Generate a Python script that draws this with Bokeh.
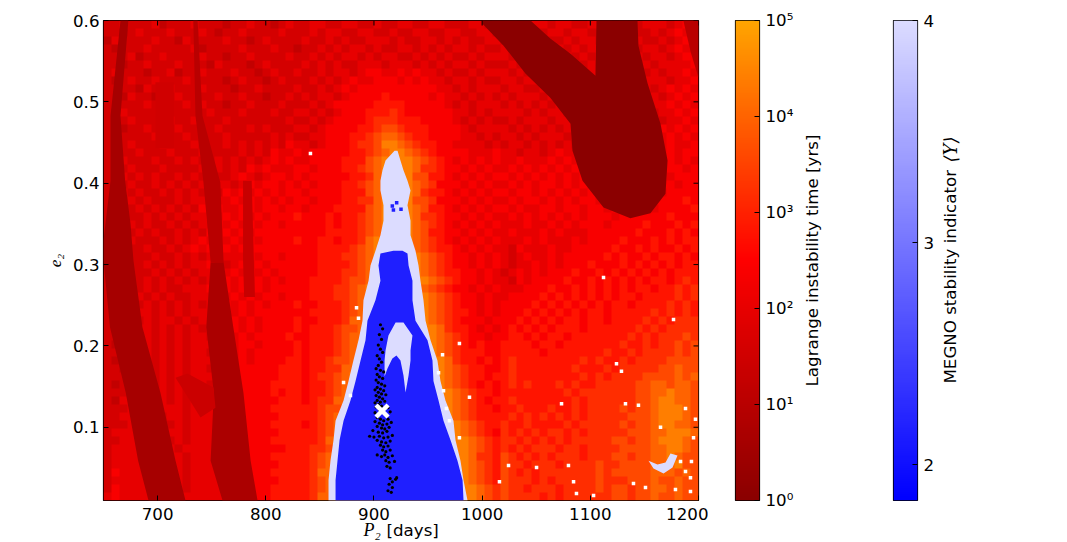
import numpy as np
from bokeh.plotting import figure
from bokeh.layouts import row, column
from bokeh.models import Range1d, FixedTicker, LinearColorMapper, Label
from bokeh.embed import file_html
from bokeh.resources import INLINE

# ---------- data ----------
x_ticks = [700, 800, 900, 1000, 1100, 1200]
y_ticks = [0.1, 0.2, 0.3, 0.4, 0.5, 0.6]
lagrange_ticks = [0, 1, 2, 3, 4, 5]
lagrange_labels = ["10⁰", "10¹", "10²", "10³", "10⁴", "10⁵"]
megno_ticks = [2, 3, 4]

# background: each character is one coarse cell of log10(instability time), top row first
time_codes = {c: i * 0.4 for i, c in enumerate("0123456789ABC")}
time_grid = [
"4454445344454443445443454 4554455445445544554445545 5544554554455545445554566",
"4434544454445434454444544 4545544554454455445544554 5455445545544455544545655",
"3544445443544445443454444 5445454455545445545454455 4554554454554545554454566",
"4344454444453444454445443 4454545545445545454554544 5545445545455445545545655",
"4445344544445443445444454 4545455454554454545445455 5454554454545554454554566",
"4434454445444354443454444 5454544555455545454554544 4545545545454455545455556",
"4544434453445444544345445 4454554566556565545445455 5454455454554545554545565",
"4345445444544443454434544 4545456556665656554554544 5545545545455454545554556",
"4444354454445444344544445 4454565666666666655454555 4554454554545545455456565",
"4435443445444454454434454 5455456666766666565545454 5455545454554545545545656",
"4444454344545443445444544 4545666667777666665454555 4545454554554455554556565",
"4354444544444544454445445 5454566677787666666554545 5554545545455545455455656",
"4445444454454445444444454 4545666678887776666545454 4545554554545545556545565",
"4434454445444454445454445 5456666778998777666654555 5454545455455454545465656",
"4544445444544445444445454 4556667789AA9877666655454 5545455545545456565556565",
"4445444544454445454545465 5456667889BBA987766555545 4554545454556565655656556",
"4444544454445444454546556 56666677 89ABBA9876 66655565 5455456556565656566565665",
"4454445445454454545456565 5666677 79ABBBBA987 6565656 5565556565656556565656565",
"4545444544445454546565556 6566677 89ABBBBA887 6656565 5656565656566565656656656",
"4454545445454544565456656 5666667 78ABBBB9977 6565656 6565656565656656566565666",
"4545445454545455456566565 6566677 89ABBBBA986 6656565 5656566565656565666566566",
"4454544545454546565656566 5666677 79ABBBBA877 6565656 6566565656566566656656666",
"4445454445455455656565656 6566677 88ABBBB9986 6656565 5656656565665656566666676",
"4544545454546565566566566 5666777 79ABBBBA977 6565656 6565566566566566666566667",
"4454454545455656565656667 6667677 89ABBBBA887 6656565 5656565656566656666667666",
"4445454454545565656566566 6667677 89ABBBBA987 6565656 5556556565666566667666767",
"4444545445454656565666666 6667777 89ABBBBA977 6656565 5655565655566666676667676",
"4445444545456565656566667 6677677 8ABBBBBA987 6565656 5556565556566667666767677",
"4344454454565656566666666 6677778 9ABBBBBA987 7656565 5465556556666676676766767",
"4454445445454565556566566 6677788 9ABBBBBBA98 7665656 5456556566666767667677676",
"4344454545455654565656666 667777 89ABBBBBBA987 665656 5455656566676667676767677",
"4434445454545555656565666 667778 89ABBBBBBA987 766565 4565656667667676767676777",
"4344454545454556565656566 677778 99ABBBBBBBA98 766565 5465666676676767676776787",
"4443454544555656565656666 677788 9ABBBBBBBA987 665656 5556667667676767677677878",
"4344545454455555656566566 677788 9ABBBBBBBBA98 766565 5666676767676767767777878",
"4434454545454556565656667 66777 89ABBBBBBBBA987 66565 6666767676767677677778787",
"4344554545455556565666666 67777 89ABBBBBBBBA987 76565 6667676767677677777878787",
"4443454554545565656566667 66777 8AABBBBBBBBA987 66656 6676767677677677778787888",
"4344554545454555656566667 67778 99ABBBBBBBBBA87 76565 6767676777677777787878888",
"4434554545455456565666676 67778 9AABBBBBBBBBA98 76656 6776767767777777878788898",
"4344554545455556566566667 6777 89ABBBBBBBBBBA987 6766 7777677677777778778788989",
"4435554545455456565666667 6777 89ABBBBBBBBBBA987 7766 7777767777777877878888989",
"4344554545455556565666677 6778 99ABBBBBBBBBBBA87 7676 7877777777878778788889999",
"4435554545455456566666777 6778 8AABBBBBBBBBBBA98 7766 7877777778777878888899A99",
"4445554545455556566666777 6788 9ABBBBBBBBBBBBA98 7767 7877777777878788889999A9A",
"4345554545455456566667777 677 89ABBBBBBBBBBBBA987 676 7878777878778888899AA9AA9",
"4445554545455556566667677 677 89ABBBBBBBBBBBBBA98 776 7777777787888888899AABAA9",
"4355554545454556566666777 678 8AABBBBBBBBBBBBBA98 767 7877777778788888899ABBAA9",
"4445554555455556566667777 778 99ABBBBBBBBBBBBBA98 776 7787778778788889899ABBBA9",
"4455555455455556566666777 778 9ABBBBBBBBBBBBBBA98 777 7878787878788888999ABBBA9",
"4445555545455556566667777 67 89ABBBBBBBBBBBBBBBA987 7 8778777787888889899ABBAA9",
"4555555455455556566666777 77 89ABBBBBBBBBBBBBBBA987 6 8787878878788888999AABBBA",
"4455555545455556566667777 77 8AABBBBBBBBBBBBBBBBA98 7 8878787878888899899ABBBA9",
"4555555454555556566666677 78 89ABBBBBBBBBBBBBBBBA98 7 8787888788788889999AABBA9",
"4555555455455556566667777 78 9ABBBBBBBBBBBBBBBBBA88 7 9878787888788899899AABA99",
"4555555545455556566666777 78 9ABBBBBBBBBBBBBBBBBA987 9887888788889889999AAAB99",
"4655555455455556566667777 78 AABBBBBBBBBBBBBBBBBA987 9878788888889899999AAA9A9",
"4555555545455556566666777 78 9ABBBBBBBBBBBBBBBBBA987 9888787888889888999A99A99",
"4655555455455556566667777 78 9ABBBBBBBBBBBBBBBBBBA98 9887888788889899899AA9A99",
"5655555545555556566667777 78 AABBBBBBBBBBBBBBBBBBA98 9888878788888899899A99A99",
]

# flat, dark instability regions: outline in (P, e) and their log10(time)
band1_p = [665.7, 656.5, 656.5, 650, 650, 656, 670.6, 682, 691.6, 725.8, 716.6, 702.7, 686, 677.7, 675, 670, 665.7, 673]
band1_e = [0.6, 0.483, 0.403, 0.33, 0.305, 0.223, 0.142, 0.059, 0.01, 0.01, 0.059, 0.142, 0.223, 0.305, 0.35, 0.403, 0.483, 0.6]
band1_level = 0.6
band2_p = [749, 745, 752, 749, 760, 792.4, 786, 779.4, 770, 761]
band2_e = [0.303, 0.223, 0.142, 0.059, 0.01, 0.01, 0.059, 0.142, 0.223, 0.303]
band2_level = 0.7
band2top_p = [733, 735, 742.4, 749, 761, 758, 741.5, 737]
band2top_e = [0.6, 0.483, 0.401, 0.303, 0.303, 0.401, 0.483, 0.6]
band2top_level = 1.0
band3_p = [779, 787, 789, 790, 780, 779]
band3_e = [0.403, 0.403, 0.305, 0.26, 0.26, 0.305]
band3_level = 1.3
band4_p = [698, 715, 715, 698]
band4_e = [0.524, 0.524, 0.443, 0.443]
band4_level = 1.5
band5_p = [1186, 1200, 1200, 1193]
band5_e = [0.6, 0.6, 0.53, 0.56]
band5_level = 1.0
band6_p = [716.6, 727.6, 751.7, 753.5, 739.7]
band6_e = [0.161, 0.166, 0.149, 0.124, 0.112]
band6_level = 1.4
blob_p = [1000.3, 1044.7, 1063, 1081.7, 1104.8, 1105.7, 1143.6, 1144.5, 1152.9, 1164.9, 1171.4, 1169.5, 1155.6, 1137, 1112.2, 1092.8, 1083.5, 1081.7, 1063, 1040, 1019.8, 1000.3]
blob_e = [0.6, 0.6, 0.578, 0.559, 0.532, 0.6, 0.6, 0.569, 0.523, 0.473, 0.428, 0.387, 0.363, 0.357, 0.370, 0.403, 0.44, 0.473, 0.505, 0.535, 0.569, 0.596]
blob_level = 0.0

# the stable region: MEGNO about 4 (outer) and about 2 (inner)
outer_e = [0.440, 0.428, 0.416, 0.403, 0.391, 0.373, 0.354, 0.336, 0.317, 0.299, 0.280, 0.256, 0.231, 0.207, 0.182, 0.157, 0.133, 0.108, 0.084, 0.059, 0.035, 0.01]
outer_left = [919, 910.7, 907.9, 906, 906, 908.8, 908.8, 906, 901.4, 896.8, 895, 890.3, 889.4, 885.7, 881, 876.5, 871.9, 864.5, 862.6, 859.8, 858, 858]
outer_right = [921.8, 924.5, 927.3, 931, 933.8, 931, 933.8, 933.8, 938.4, 941.2, 943, 945.8, 947.7, 952.3, 958.7, 961.5, 966.1, 973.5, 975.4, 980, 982.8, 986.5]
inner_e = [0.317, 0.3136, 0.299, 0.280, 0.256, 0.231, 0.207, 0.182, 0.157, 0.133, 0.108, 0.084, 0.059, 0.035, 0.01]
inner_left = [918, 906, 904.2, 906, 901.4, 894, 892.2, 887.6, 883, 878.3, 871.9, 868.2, 866.3, 864.5, 864.5]
inner_right = [926.4, 931, 932, 935.6, 935.6, 938.4, 949.5, 954.1, 955, 959.7, 964.3, 970.8, 977.2, 981.9, 982.8]
arch_p = [920, 927.3, 935.6, 933.8, 933.8, 932, 929.2, 927.3, 924.5, 920.8, 917, 912.5, 909.8, 909.8, 910.7, 913.4]
arch_e = [0.2288, 0.2288, 0.2128, 0.1944, 0.182, 0.1636, 0.1427, 0.1636, 0.182, 0.1882, 0.1845, 0.1723, 0.1624, 0.182, 0.1944, 0.2128]
island_p = [1153.8, 1158.4, 1167.7, 1176, 1180.6, 1174.1, 1169.5, 1162.1]
island_e = [0.059, 0.0493, 0.0432, 0.0506, 0.0653, 0.0678, 0.0567, 0.0542]
megno_blue = 2.15
megno_pale = 4.0

# isolated pale cells
white_p = [1112.2, 1176.9, 979, 1124.2, 1128.8, 988.3, 1073.4, 1132.5, 1144.5, 1188, 1197.2, 1164.9, 1195.4, 979, 1024.4, 1050.3, 1079.8, 1016, 1084.5, 1139.9, 1087.2, 1103, 1151, 1178.7, 1192.6, 1192.6, 1183.4, 1193.5, 1188, 841.3, 964.3, 963.4, 871.9, 883.9, 885.7, 959.7, 967, 969.8, 878.3]
white_e = [0.284, 0.2325, 0.203, 0.178, 0.169, 0.137, 0.129, 0.129, 0.127, 0.123, 0.110, 0.100, 0.087, 0.087, 0.053, 0.0506, 0.053, 0.033, 0.033, 0.031, 0.0186, 0.016, 0.026, 0.0235, 0.021, 0.038, 0.058, 0.058, 0.0456, 0.4365, 0.145, 0.189, 0.155, 0.247, 0.234, 0.167, 0.123, 0.108, 0.139]
inner_spot_p = [917, 921, 918, 925]
inner_spot_e = [0.372, 0.376, 0.367, 0.368]

# black dots: solutions of the fit; white cross: best fit
fit_p = [906,908,905,907,904,906,908,903,905,907,904,902,906,909,903,905,908,902,904,907,910,903,906,909,901,904,907,911,902,905,908,903,906,910,901,904,907,913,902,905,909,915,901,904,911,903,906,909,913,901,905,908,912,916,903,907,910,914,899,904,908,912,896,900,905,909,913,917,903,907,911,915,906,909,913,908,911,915,903,907,910,913,917,911,914,919,912,915,917,920,914,917,913,916,921,915]
fit_e = [.226,.221,.214,.208,.201,.196,.192,.188,.184,.180,.176,.172,.170,.168,.165,.162,.160,.158,.155,.153,.151,.149,.147,.145,.146,.143,.141,.140,.139,.137,.135,.133,.131,.132,.130,.128,.126,.124,.125,.122,.120,.119,.118,.116,.115,.112,.110,.108,.110,.107,.105,.103,.104,.106,.101,.099,.098,.100,.096,.094,.093,.095,.089,.088,.089,.087,.088,.090,.084,.082,.081,.083,.078,.076,.077,.072,.070,.072,.066,.064,.066,.063,.065,.059,.057,.058,.052,.050,.033,.036,.030,.026,.022,.020,.038,.037]
best_p = [907.5]
best_e = [0.12]

# ---------- colours ----------
def time_rgb(t):
    if t < 0.5:
        return (int(139 + 116 * t / 0.5), 0, 0)
    return (255, int(165 * (t - 0.5) / 0.5), 0)

def to_hex(c):
    return "#%02x%02x%02x" % c

time_palette = [to_hex(time_rgb(i / 255)) for i in range(256)]
megno_min, megno_max = 1.84, 4.0
def megno_rgb(t):
    v = int(220 * t)
    return (v, v, 255)
megno_palette = [to_hex(megno_rgb(i / 255)) for i in range(256)]
time_mapper = LinearColorMapper(palette=time_palette, low=0, high=5)
megno_mapper = LinearColorMapper(palette=megno_palette, low=megno_min, high=megno_max)

def time_color(level):
    return to_hex(time_rgb(level / 5))
def megno_color(level):
    return to_hex(megno_rgb((level - megno_min) / (megno_max - megno_min)))

FONT = "DejaVu Sans"
TICK = "16.67px"

def style_axis(ax, standoff=7):
    ax.major_tick_in = 5
    ax.major_tick_out = 0
    ax.minor_tick_in = 0
    ax.minor_tick_out = 0
    ax.axis_line_color = None
    ax.major_tick_line_color = "black"
    ax.major_label_text_color = "black"
    ax.major_label_text_font = FONT
    ax.major_label_text_font_size = TICK
    ax.major_label_standoff = standoff

def text_panel(width, height, **kw):
    # a figure that only holds labels, so that they are inside its frame
    f = figure(width=width, height=height, output_backend="svg", toolbar_location=None,
               x_range=Range1d(0, 1), y_range=Range1d(0, 1),
               min_border_left=0, min_border_right=0, min_border_top=0, min_border_bottom=0, **kw)
    f.axis.visible = False
    f.grid.visible = False
    f.outline_line_color = None
    f.background_fill_alpha = 0
    f.border_fill_alpha = 0
    return f

# ---------- main panel ----------
p = figure(width=708, height=527, output_backend="svg", toolbar_location=None,
           x_range=Range1d(650, 1200), y_range=Range1d(0.01, 0.6),
           min_border_left=103, min_border_right=10, min_border_top=20, min_border_bottom=27)
p.grid.visible = False
p.outline_line_color = "black"
p.outline_line_width = 1.2

rows = [r.replace(" ", "").ljust(75, "6")[:75] for r in time_grid]
arr = np.array([[time_codes[c] for c in r] for r in rows], dtype=float)[::-1]
p.image(image=[arr], x=650, y=0.01, dw=550, dh=0.59, color_mapper=time_mapper)

for px, py, lev in [(band1_p, band1_e, band1_level), (band2_p, band2_e, band2_level),
                    (band2top_p, band2top_e, band2top_level),
                    (band3_p, band3_e, band3_level), (band4_p, band4_e, band4_level),
                    (band5_p, band5_e, band5_level), (band6_p, band6_e, band6_level),
                    (blob_p, blob_e, blob_level)]:
    p.patch(px, py, fill_color=time_color(lev), line_color=None)

p.harea(x1=outer_left, x2=outer_right, y=outer_e, fill_color=megno_color(megno_pale))
p.harea(x1=inner_left, x2=inner_right, y=inner_e, fill_color=megno_color(megno_blue))
p.patch(arch_p, arch_e, fill_color=megno_color(megno_pale), line_color=None)
p.patch(island_p, island_e, fill_color=megno_color(megno_pale), line_color=None)
p.scatter(white_p, white_e, marker="square", size=3.5, fill_color="white", line_color=None)
p.scatter(inner_spot_p, inner_spot_e, marker="square", size=3.5, fill_color=megno_color(megno_blue), line_color=None)
p.scatter(fit_p, fit_e, marker="circle", size=3.2, fill_color="black", line_color=None)
p.scatter(best_p, best_e, marker="x", size=17, line_color="white", line_width=4.5)

p.xaxis.ticker = FixedTicker(ticks=x_ticks)
p.yaxis.ticker = FixedTicker(ticks=y_ticks)
p.xaxis.major_label_overrides = {v: str(v) for v in x_ticks}
style_axis(p.xaxis[0], 7)
style_axis(p.yaxis[0], 4)
p.yaxis.axis_label = "e₂"
p.yaxis.axis_label_text_font = "Liberation Serif"
p.yaxis.axis_label_text_font_style = "italic"
p.yaxis.axis_label_text_font_size = "17px"
p.yaxis.axis_label_text_color = "black"
p.yaxis.axis_label_standoff = 5

tick_de = 5 * 0.59 / 480
tick_dp = 5 * 550 / 595
p.segment(x_ticks, [0.6] * len(x_ticks), x_ticks, [0.6 - tick_de] * len(x_ticks), line_color="black")
p.segment([1200] * len(y_ticks), y_ticks, [1200 - tick_dp] * len(y_ticks), y_ticks, line_color="black")

x_label = text_panel(708, 24, margin=(-9, 0, 0, 0))
x_label.add_layout(Label(x=260, y=3, x_units="screen", y_units="screen", text="P₂",
                         text_font="Liberation Serif", text_font_style="italic", text_font_size="18px", text_color="black"))
x_label.add_layout(Label(x=283, y=3, x_units="screen", y_units="screen", text="[days]",
                         text_font=FONT, text_font_size=TICK, text_color="black"))

# ---------- colour bars ----------
def colour_bar(width, left, right, low, high, ticks, mapper, overrides=None):
    f = figure(width=width, height=542, output_backend="svg", toolbar_location=None,
               x_range=Range1d(0, 1), y_range=Range1d(low, high), y_axis_location="right",
               min_border_left=left, min_border_right=right, min_border_top=20, min_border_bottom=42)
    f.grid.visible = False
    f.xaxis.visible = False
    f.outline_line_color = "black"
    f.outline_line_width = 1.2
    ramp = np.linspace(low, high, 480).reshape(-1, 1)
    f.image(image=[ramp], x=0, y=low, dw=1, dh=high - low, color_mapper=mapper)
    f.yaxis.ticker = FixedTicker(ticks=ticks)
    if overrides:
        f.yaxis.major_label_overrides = overrides
    style_axis(f.yaxis[0], 6)
    return f

cb1 = colour_bar(92, 27, 41, 0, 5, lagrange_ticks, time_mapper,
                 {t: s for t, s in zip(lagrange_ticks, lagrange_labels)})
cb1_label = text_panel(78, 542)
cb1_label.add_layout(Label(x=12, y=240, x_units="screen", y_units="screen", angle=90, angle_units="deg",
                           text="Lagrange instability time [yrs]", text_font=FONT, text_font_size=TICK,
                           text_align="center", text_baseline="middle", text_color="black"))
cb2 = colour_bar(60, 15, 21, megno_min, megno_max, megno_ticks, megno_mapper,
                 {2: "2", 3: "3", 4: "4"})
cb2_label = text_panel(121, 542)
cb2_label.add_layout(Label(x=12, y=117, x_units="screen", y_units="screen", angle=90, angle_units="deg",
                           text="MEGNO stability indicator", text_font=FONT, text_font_size=TICK,
                           text_align="left", text_baseline="middle", text_color="black"))
cb2_label.add_layout(Label(x=12, y=338, x_units="screen", y_units="screen", angle=90, angle_units="deg",
                           text="⟨Y⟩", text_font="DejaVu Serif", text_font_style="italic", text_font_size="18px",
                           text_align="left", text_baseline="middle", text_color="black"))

layout = row(column(p, x_label, spacing=0), cb1, cb1_label, cb2, cb2_label, spacing=0)
open("out.html", "w").write(file_html(layout, INLINE))
